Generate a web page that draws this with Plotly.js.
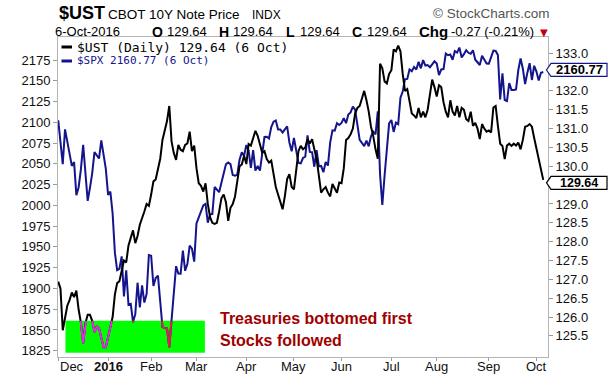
<!DOCTYPE html>
<html><head><meta charset="utf-8">
<script src="https://cdn.plot.ly/plotly-3.0.1.min.js"></script>
<style>html,body{margin:0;padding:0;background:#fff}#chart{width:612px;height:378px}</style>
</head><body><div id="chart"></div>
<script>
// ---------------- DATA ----------------
const startDate = '2015-12-01';
const endDate = '2016-10-06';
const holidays = ['2015-12-25','2016-01-01','2016-01-18','2016-02-15','2016-03-25','2016-05-30','2016-07-04','2016-09-05'];
const monthNames = ['Jan','Feb','Mar','Apr','May','Jun','Jul','Aug','Sep','Oct','Nov','Dec'];

const ustName = '$UST';
const ustTitle = 'CBOT 10Y Note Price';
const ustExchange = 'INDX';
const spxName = '$SPX';

// $SPX daily closes (left axis)
const spxValues = [
 2102.63,2079.51,2049.62,2091.69,2077.07,2063.59,2047.62,2052.23,2012.37,2021.94,2043.41,2073.07,2041.89,2005.55,2021.15,2038.97,2064.29,2060.99,2056.50,2078.36,2063.36,2043.94,
 2012.66,2016.71,1990.26,1943.09,1922.03,1923.67,1938.68,1890.28,1921.84,1880.33,1881.33,1859.33,1868.99,1906.90,1877.08,1903.63,1882.95,1893.36,1940.24,
 1939.38,1903.03,1912.53,1915.45,1880.05,1853.44,1852.21,1851.86,1829.08,1864.78,1895.58,1926.82,1917.83,1917.78,1945.50,1921.27,1929.80,1951.70,1948.05,1932.23,
 1978.35,1986.45,1993.40,1999.99,2001.76,1979.26,1989.26,1989.57,2022.19,2019.64,2015.93,2027.22,2040.59,2049.58,2051.60,2049.80,2036.71,2035.94,2037.05,2055.01,2063.95,2059.74,
 2072.78,2066.13,2045.17,2066.66,2041.91,2047.60,2041.99,2061.72,2082.42,2082.78,2080.73,2094.34,2100.80,2102.40,2091.48,2091.58,2087.79,2091.70,2095.15,2075.81,2065.30,
 2081.43,2063.37,2051.12,2050.63,2057.14,2058.69,2084.39,2064.46,2064.11,2046.61,2066.66,2047.21,2047.63,2040.04,2052.32,2048.04,2076.06,2090.54,2090.10,2099.06,2096.95,
 2099.33,2105.26,2099.13,2109.41,2112.13,2119.12,2115.48,2096.07,2079.06,2075.32,2071.50,2077.99,2071.22,2083.25,2088.90,2085.45,2113.32,2037.41,2000.54,2036.09,2070.77,2098.86,
 2102.95,2088.55,2099.73,2097.90,2129.90,2137.16,2152.14,2152.43,2163.75,2161.74,2166.89,2163.78,2173.02,2165.17,2175.03,2168.48,2169.18,2166.58,2170.06,2173.60,
 2170.84,2157.03,2163.79,2164.25,2182.87,2180.89,2181.74,2175.49,2185.79,2184.05,2190.15,2178.15,2182.22,2187.02,2183.87,2182.64,2186.90,2175.44,2172.47,2169.04,2180.38,2176.12,2170.95,
 2170.86,2179.98,2186.48,2186.16,2181.30,2127.81,2159.04,2127.02,2125.77,2147.26,2139.16,2139.12,2139.76,2163.12,2177.18,2164.69,2146.10,2159.93,2171.37,2151.13,2168.27,
 2161.20,2150.49,2159.73,2160.77
];

// $UST daily closes (right axis)
const ustValues = [
 126.94,126.75,125.65,126.0,126.3,126.45,126.65,126.53,126.7,126.2,125.85,125.3,125.84,126.06,126.06,125.9,125.6,125.75,125.7,125.45,125.2,125.2,
 125.45,125.7,126.0,126.6,126.9,126.95,127.2,127.5,127.45,127.9,128.1,128.3,127.96,128.15,128.45,128.6,128.8,129.0,128.95,
 129.25,129.6,129.65,129.9,130.2,130.7,130.92,131.2,131.6,130.66,130.35,130.17,130.57,130.44,130.4,130.57,130.61,130.92,130.4,130.55,
 129.95,129.55,129.48,129.33,129.55,129.0,128.65,128.5,128.47,128.5,128.8,129.15,129.25,129.05,128.55,128.9,129.0,129.2,129.6,130.0,130.05,130.28,
 130.06,130.59,130.55,130.72,130.94,130.81,130.6,130.36,130.4,130.19,130.1,130.15,129.8,129.45,129.25,129.05,128.86,129.21,129.66,129.79,129.45,
 129.39,129.97,130.4,130.54,130.45,130.5,130.72,130.6,130.72,130.45,130.2,129.75,129.3,129.39,129.45,129.3,129.2,129.53,129.4,129.3,129.57,
 129.55,129.95,130.7,130.75,130.85,131.0,131.4,131.55,131.6,131.8,132.0,131.75,131.45,131.05,130.8,130.45,130.2,132.72,132.6,132.25,132.2,132.45,
 132.55,133.1,133.05,133.2,133.05,132.45,132.0,132.05,131.7,131.4,131.35,131.28,131.55,131.3,131.45,131.3,131.5,131.85,132.3,132.1,
 131.85,132.15,132.1,131.7,131.45,131.3,131.75,131.45,131.35,131.6,131.3,131.55,131.5,131.25,131.2,131.45,131.07,131.15,131.0,130.72,131.12,131.0,130.92,
 130.95,130.9,131.56,131.6,131.07,130.6,130.54,130.19,130.55,130.6,130.54,130.6,130.55,130.63,130.45,130.7,131.05,131.07,131.12,131.05,130.75,
 130.45,130.15,129.91,129.64
];

const leftTicks = {start:1825, end:2175, step:25};
const rightTicks = {start:125.5, end:133.0, step:0.5};
const noteLines = ['Treasuries bottomed first','Stocks followed'];

// ---------------- LAYOUT CONSTANTS ----------------
const W=612,H=378, L=58, R=548, T=37, B=357;
const xRange=[-0.1,216.1];
const yRange=[1817.4,2202.9];
const y2Range=[124.94,133.43];
const box = {x0:3.2, x1:64.7, y0:1822.6, y1:1861};   // highlight box (x: trading-day index, y: left axis)
const C_UST='#000000', C_SPX='#14148c', C_UST_IN='#ea2aea', C_SPX_IN='#dc1e55';

// ---------------- DERIVED ----------------
function tradingDays(){
  const out=[]; let d=new Date(startDate+'T00:00:00Z'); const end=new Date(endDate+'T00:00:00Z');
  while(d<=end){ const s=d.toISOString().slice(0,10); const wd=d.getUTCDay();
    if(wd!==0 && wd!==6 && !holidays.includes(s)) out.push(s);
    d=new Date(d.getTime()+86400000); }
  return out;
}
const days=tradingDays();
const xIdx=days.map((d,i)=>i);
const tickvals=[], ticktext=[];
days.forEach((d,i)=>{ const m=+d.slice(5,7)-1; const pm=i>0?+days[i-1].slice(5,7)-1:-1;
  if(m!==pm){ tickvals.push(i); ticktext.push(m===0?'<b>'+d.slice(0,4)+'</b>':monthNames[m]); } });
function range(a){const o=[];for(let v=a.start;v<=a.end+1e-9;v+=a.step)o.push(+v.toFixed(2));return o;}

function clip(xs,ys,x0,x1,y0,y1){
  const ox=[],oy=[];
  for(let k=0;k<Math.min(xs.length,ys.length)-1;k++){
    const ax=xs[k],ay=ys[k],bx=xs[k+1],by=ys[k+1],dx=bx-ax,dy=by-ay;
    let t0=0,t1=1,ok=true;
    const p=[-dx,dx,-dy,dy], q=[ax-x0,x1-ax,ay-y0,y1-ay];
    for(let j=0;j<4;j++){
      if(p[j]===0){ if(q[j]<0){ok=false;break;} }
      else { const r=q[j]/p[j];
        if(p[j]<0){ if(r>t1){ok=false;break;} if(r>t0)t0=r; }
        else { if(r<t0){ok=false;break;} if(r<t1)t1=r; } }
    }
    if(!ok||t0>t1) continue;
    const sx=ax+t0*dx, sy=ay+t0*dy, ex=ax+t1*dx, ey=ay+t1*dy;
    if(ox.length && ox[ox.length-1]===sx && oy[oy.length-1]===sy){ ox.push(ex); oy.push(ey); }
    else { if(ox.length){ox.push(null);oy.push(null);} ox.push(sx,ex); oy.push(sy,ey); }
  }
  return {x:ox,y:oy};
}
const toY2 = v => y2Range[0]+(v-yRange[0])*(y2Range[1]-y2Range[0])/(yRange[1]-yRange[0]);
const spxIn = clip(xIdx,spxValues,box.x0,box.x1,box.y0,box.y1);
const ustIn = clip(xIdx,ustValues,box.x0,box.x1,toY2(box.y0),toY2(box.y1));

const n=ustValues.length;
const ustLast=ustValues[n-1], ustPrev=ustValues[n-2];
const spxLast=spxValues[spxValues.length-1];
const chg=ustLast-ustPrev, pct=chg/ustPrev*100;
const lastDay=days[days.length-1];
const lastD=new Date(lastDay+'T00:00:00Z');
const shortDate = lastD.getUTCDate()+' '+monthNames[lastD.getUTCMonth()];
const longDate = lastD.getUTCDate()+'-'+monthNames[lastD.getUTCMonth()]+'-'+lastD.getUTCFullYear();

// pixel -> paper helpers
const fx = X => (X-L)/(R-L);
const fy = Y => (B-Y)/(B-T);

const SANS='Liberation Sans, Arial, sans-serif';
const MONO='DejaVu Sans Mono, monospace';

const traces=[
 {x:xIdx,y:spxValues,type:'scatter',mode:'lines',yaxis:'y',line:{color:C_SPX,width:2},hoverinfo:'skip'},
 {x:xIdx,y:ustValues,type:'scatter',mode:'lines',yaxis:'y2',line:{color:C_UST,width:2},hoverinfo:'skip'},
 {x:spxIn.x,y:spxIn.y,type:'scatter',mode:'lines',yaxis:'y',line:{color:C_SPX_IN,width:2},connectgaps:false,hoverinfo:'skip'},
 {x:ustIn.x,y:ustIn.y,type:'scatter',mode:'lines',yaxis:'y2',line:{color:C_UST_IN,width:2},connectgaps:false,hoverinfo:'skip'}
];

function ann(X,Y,text,size,opts){
  return Object.assign({xref:'paper',yref:'paper',x:fx(X),y:fy(Y),xanchor:'left',yanchor:'middle',showarrow:false,
    text:text,font:{family:SANS,size:size,color:'#000'}},opts||{});
}
const fmt=v=>v.toFixed(2);
const NOTE_FONT={family:SANS,size:16,color:'#a00000'};
// value tags: pixel shift of each tag relative to its value
const TAG_SHIFT={spx:2, ust:-3};
const annotations=[
 ann(57,13,'<b>'+ustName+'</b>',18),
 ann(106,14,ustTitle,13.5),
 ann(250,15,ustExchange,12),
 ann(431,13,'\u00a9 StockCharts.com',13.5,{font:{family:SANS,size:13.5,color:'#555'}}),
 ann(53,31.5,longDate,13),
 ann(150,31.5,'<b>O</b>',14), ann(165,31.5,fmt(ustLast),13),
 ann(217,31.5,'<b>H</b>',14), ann(231,31.5,fmt(ustLast),13),
 ann(284,31.5,'<b>L</b>',14), ann(298,31.5,fmt(ustLast),13),
 ann(350,31.5,'<b>C</b>',14), ann(365,31.5,fmt(ustLast),13),
 ann(417,31.5,'<b>Chg</b>',15), ann(449,31.5,fmt(chg)+' ('+pct.toFixed(2)+'%)',13),
 ann(538,32,'\u25BC',10,{font:{family:'DejaVu Sans, sans-serif',size:10,color:'#c0001a'}}),
 ann(75,47,ustName+' (Daily) '+fmt(ustLast)+' ('+shortDate+')',13,{font:{family:MONO,size:13,color:'#000'}}),
 ann(75,60.5,spxName+' '+fmt(spxLast)+' ('+shortDate+')',11,{font:{family:MONO,size:11,color:C_SPX}}),
 ann(218,318,'<b>'+noteLines[0]+'</b>',16,{font:NOTE_FONT}),
 ann(218,340.5,'<b>'+noteLines[1]+'</b>',16,{font:NOTE_FONT}),
 // value tags on right axis
 {xref:'paper',yref:'y',x:fx(579),y:spxLast,yshift:TAG_SHIFT.spx,xanchor:'center',yanchor:'middle',showarrow:false,
  text:'<b>'+fmt(spxLast)+'</b>',font:{family:SANS,size:13,color:'#000'}},
 {xref:'paper',yref:'y2',x:fx(579),y:ustLast,yshift:TAG_SHIFT.ust,xanchor:'center',yanchor:'middle',showarrow:false,
  text:'<b>'+fmt(ustLast)+'</b>',font:{family:SANS,size:12.5,color:'#000'}}
];
// x-axis month labels, placed on the tick positions
tickvals.forEach((v,k)=>{
  const first = k===0;
  annotations.push({xref:first?'paper':'x',yref:'paper',x:first?0:v,y:fy(366.5),
    xanchor:first?'left':'center',yanchor:'middle',showarrow:false,text:ticktext[k],
    font:{family:SANS,size:13,color:'#111'}});
});

function tagPath(v, rng, shiftPx){
  const u=(rng[1]-rng[0])/(B-T);
  const c=v+shiftPx*u, h=6.5*u;
  const a=fx(551), b=fx(607), tip=fx(546.5);
  return `M ${a} ${c+h} L ${b} ${c+h} L ${b} ${c-h} L ${a} ${c-h} L ${tip} ${c} Z`;
}
const shapes=[
 {type:'rect',xref:'x',yref:'y',x0:box.x0,x1:box.x1,y0:box.y0,y1:box.y1,fillcolor:'#00ff00',line:{width:0},layer:'below'},
 {type:'line',xref:'paper',yref:'paper',x0:fx(61.5),x1:fx(72),y0:fy(47),y1:fy(47),line:{color:C_UST,width:3}},
 {type:'line',xref:'paper',yref:'paper',x0:fx(61.5),x1:fx(72),y0:fy(61),y1:fy(61),line:{color:C_SPX,width:3}},
 {type:'path',xref:'paper',yref:'y',path:tagPath(spxLast,yRange,TAG_SHIFT.spx),fillcolor:'#fff',line:{color:C_SPX,width:1.2},layer:'above'},
 {type:'path',xref:'paper',yref:'y2',path:tagPath(ustLast,y2Range,TAG_SHIFT.ust),fillcolor:'#fff',line:{color:'#000',width:1.2},layer:'above'}
];

// right-axis labels that sit under a value tag are hidden by the tag
const rVals=range(rightTicks);
const rText=rVals.map(v=>Math.abs(v-ustLast)<0.3||Math.abs(toY2(spxLast)-v)<0.3?'':v.toFixed(1));

const axisCommon={showgrid:false,zeroline:false,showline:true,linecolor:'#b4b4b4',linewidth:1,mirror:true,
  ticks:'outside',ticklen:4,tickcolor:'#9a9a9a',tickfont:{family:SANS,size:13,color:'#111'}};
const layout={
 width:W,height:H,margin:{l:L,r:W-R,t:T,b:H-B,pad:0},
 paper_bgcolor:'#fff',plot_bgcolor:'#fff',showlegend:false,
 font:{family:SANS,size:13,color:'#000'},
 xaxis:Object.assign({},axisCommon,{range:xRange,tickmode:'array',tickvals:tickvals,showticklabels:false,ticklen:3,fixedrange:true}),
 yaxis:Object.assign({},axisCommon,{range:yRange,tickmode:'array',tickvals:range(leftTicks),ticktext:range(leftTicks).map(String),fixedrange:true}),
 yaxis2:Object.assign({},axisCommon,{range:y2Range,overlaying:'y',side:'right',tickmode:'array',
   tickvals:rVals,ticktext:rText,fixedrange:true,mirror:false}),
 annotations:annotations,
 shapes:shapes
};
Plotly.newPlot('chart',traces,layout,{staticPlot:true,displayModeBar:false});
</script>
</body></html>
